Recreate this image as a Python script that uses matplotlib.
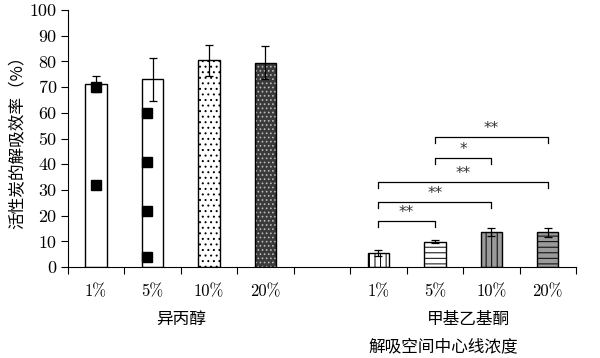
import matplotlib.pyplot as plt
import numpy as np

plt.rcParams['font.family'] = ['cmr10', 'Noto Sans CJK SC', 'DejaVu Sans']
plt.rcParams['hatch.linewidth'] = 0.7
plt.rcParams['axes.unicode_minus'] = False

# data
tick_labels = ['1%', '5%', '10%', '20%', '', '1%', '5%', '10%', '20%']
values = [71.2, 73.0, 80.5, 79.5, 0, 5.5, 9.8, 13.5, 13.5]
errors = [3.0, 8.5, 6.0, 6.5, 0, 1.2, 0.6, 1.6, 1.8]
groups = ['异丙醇', '甲基乙基酮']
group_pos = [1.5, 6.6]
# black square marks of the pattern: (bar index, x offset, value)
squares = [(0, 0, 70), (0, 0, 32), (1, -0.1, 60), (1, -0.1, 41),
           (1, -0.1, 22), (1, -0.1, 4)]
# significance brackets: (from, to, height, label)
brackets = [(5, 6, 18, '**'), (5, 7, 25.3, '**'), (5, 8, 33, '**'),
            (6, 7, 42.4, '*'), (6, 8, 50.6, '**')]

faces = ['white', 'white', 'white', '#3a3a3a', 'none', 'white', 'white', '#9a9a9a', '#9a9a9a']
hatch_cols = ['black', 'black', 'black', '#bbbbbb', 'black', 'black', 'black', 'black', 'black']
hatches = [None, None, '...', '....', None, '|||', '---', '|||', '---']

fig = plt.figure(figsize=(6, 3.58), dpi=100)
ax = fig.add_axes([0.113, 0.254, 0.847, 0.718])

x = np.arange(len(values))
w = 0.38
for i in x:
    if values[i] == 0:
        continue
    ax.bar(i, values[i], w, color=faces[i], edgecolor=hatch_cols[i],
           hatch=hatches[i], linewidth=0, zorder=2)
    ax.bar(i, values[i], w, fill=False, edgecolor='black', linewidth=1, zorder=3)
    ax.errorbar(i, values[i], yerr=errors[i], color='black', capsize=3,
                elinewidth=0.9, capthick=0.9, zorder=4)

for b, off, v in squares:
    ax.plot(b + off, v, 's', color='black', markersize=7, zorder=5)

for a, b, h, lab in brackets:
    ax.plot([a, a, b, b], [h - 2.3, h, h, h - 2.3], color='black', lw=0.9)
    ax.text((a + b) / 2, h + 0.4, lab, ha='center', va='bottom', fontsize=11,
            family='DejaVu Sans', color='#333333')

ax.set_xlim(-0.5, 8.5)
ax.set_ylim(0, 100)
ax.set_yticks(np.arange(0, 101, 10))
ax.tick_params(axis='y', labelsize=13, length=5, width=0.8, pad=3)
ax.set_xticks(np.arange(-0.5, 9, 1))
ax.set_xticklabels([])
ax.set_xticks(x, minor=True)
ax.set_xticklabels(tick_labels, minor=True)
ax.tick_params(axis='x', which='major', length=5, width=0.8)
ax.tick_params(axis='x', which='minor', length=0, labelsize=12, pad=12)
for s in ['top', 'right']:
    ax.spines[s].set_visible(False)
ax.spines['left'].set_linewidth(0.8)
ax.spines['bottom'].set_linewidth(0.8)

ax.set_ylabel('活性炭的解吸效率（%）', fontsize=12, family='Noto Sans CJK SC', labelpad=2)

for g, p in zip(groups, group_pos):
    ax.text(p, -20.5, g, ha='center', va='center', fontsize=12,
            family='Noto Sans CJK SC', transform=ax.transData, clip_on=False)
fig.text(443 / 600, 1 - 347 / 358, '解吸空间中心线浓度', ha='center', va='center',
         fontsize=12, family='Noto Sans CJK SC')

fig.savefig('out.png', dpi=100)
